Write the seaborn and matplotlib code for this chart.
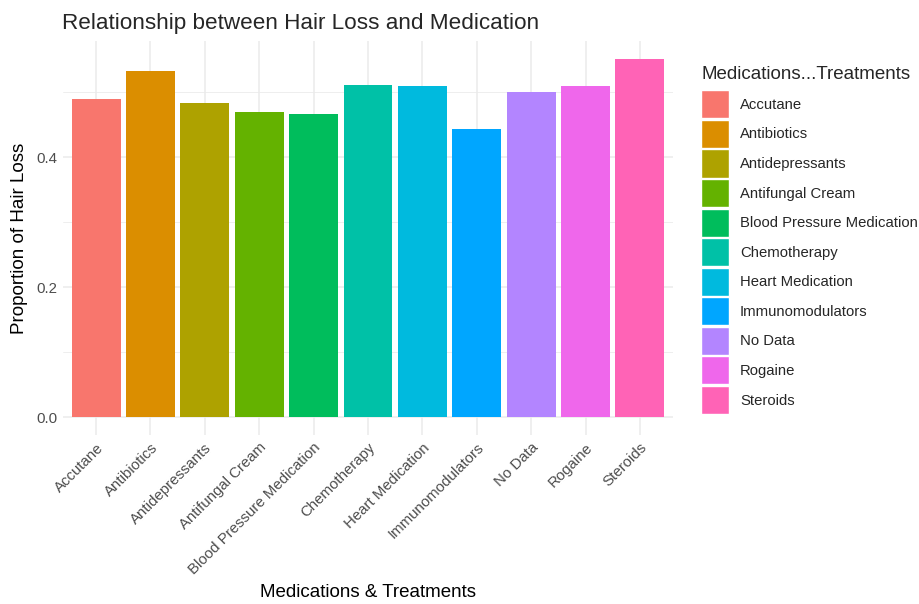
import numpy as np
import pandas as pd
import matplotlib
matplotlib.use("Agg")
import matplotlib.pyplot as plt
from matplotlib.ticker import MultipleLocator
import seaborn as sns

medications = ["Accutane", "Antibiotics", "Antidepressants", "Antifungal Cream",
               "Blood Pressure Medication", "Chemotherapy", "Heart Medication",
               "Immunomodulators", "No Data", "Rogaine", "Steroids"]
hair_loss = [0.490, 0.533, 0.483, 0.469, 0.467, 0.511, 0.510, 0.444, 0.500, 0.509, 0.551]
colors = ["#F8766D", "#DB8E00", "#AEA200", "#64B200", "#00BD5C", "#00C1A7",
          "#00BADE", "#00A6FF", "#B385FF", "#EF67EB", "#FF63B6"]

df = pd.DataFrame({"med": medications, "prop": hair_loss})

sns.set_style("white")
plt.rcParams["font.family"] = ["Liberation Sans", "DejaVu Sans"]

fig = plt.figure(figsize=(9.2, 6.04), dpi=100)
ax = fig.add_axes([0.0689, 0.2798, 0.6622, 0.6522])

sns.barplot(data=df, x="med", y="prop", hue="med", palette=colors,
            width=0.9, saturation=1, dodge=False, legend=False, ax=ax,
            edgecolor="none", zorder=3)

ymax = max(hair_loss)
ax.set_xlim(-0.6, len(medications) - 0.4)
ax.set_ylim(-0.05 * ymax, 1.05 * ymax)
ax.yaxis.set_major_locator(MultipleLocator(0.2))
ax.yaxis.set_minor_locator(MultipleLocator(0.1))
ax.set_yticks([0.0, 0.2, 0.4])
ax.set_yticklabels(["0.0", "0.2", "0.4"])

ax.grid(True, which="major", color="#EBEBEB", lw=1.1, zorder=0)
ax.grid(True, which="minor", axis="y", color="#EBEBEB", lw=0.6, zorder=0)
for s in ax.spines.values():
    s.set_visible(False)
ax.tick_params(axis="both", which="both", length=0, colors="#4D4D4D", labelsize=10.8)
ax.tick_params(axis="x", pad=4)
ax.tick_params(axis="y", pad=4)
plt.setp(ax.get_xticklabels(), rotation=45, ha="right", rotation_mode="anchor")

ax.set_xlabel("Medications & Treatments", fontsize=13.5, color="black", labelpad=5)
ax.set_ylabel("Proportion of Hair Loss", fontsize=13.5, color="black", labelpad=6)
ax.set_title("Relationship between Hair Loss and Medication", fontsize=16.2,
             loc="left", x=-0.002, pad=9)

handles = [plt.Rectangle((0, 0), 1, 1, facecolor=c, edgecolor="white", lw=1)
           for c in colors]
leg = fig.legend(handles, medications, title="Medications...Treatments",
                 loc="upper left", bbox_to_anchor=(0.756, 0.900),
                 frameon=False, fontsize=10.7, title_fontsize=13.5,
                 handlelength=1.85, handleheight=2.53, handletextpad=0.75,
                 labelspacing=0.1, borderaxespad=0)
leg._legend_box.align = "left"
leg._legend_box.sep = 5

fig.savefig("out.png", dpi=100)
